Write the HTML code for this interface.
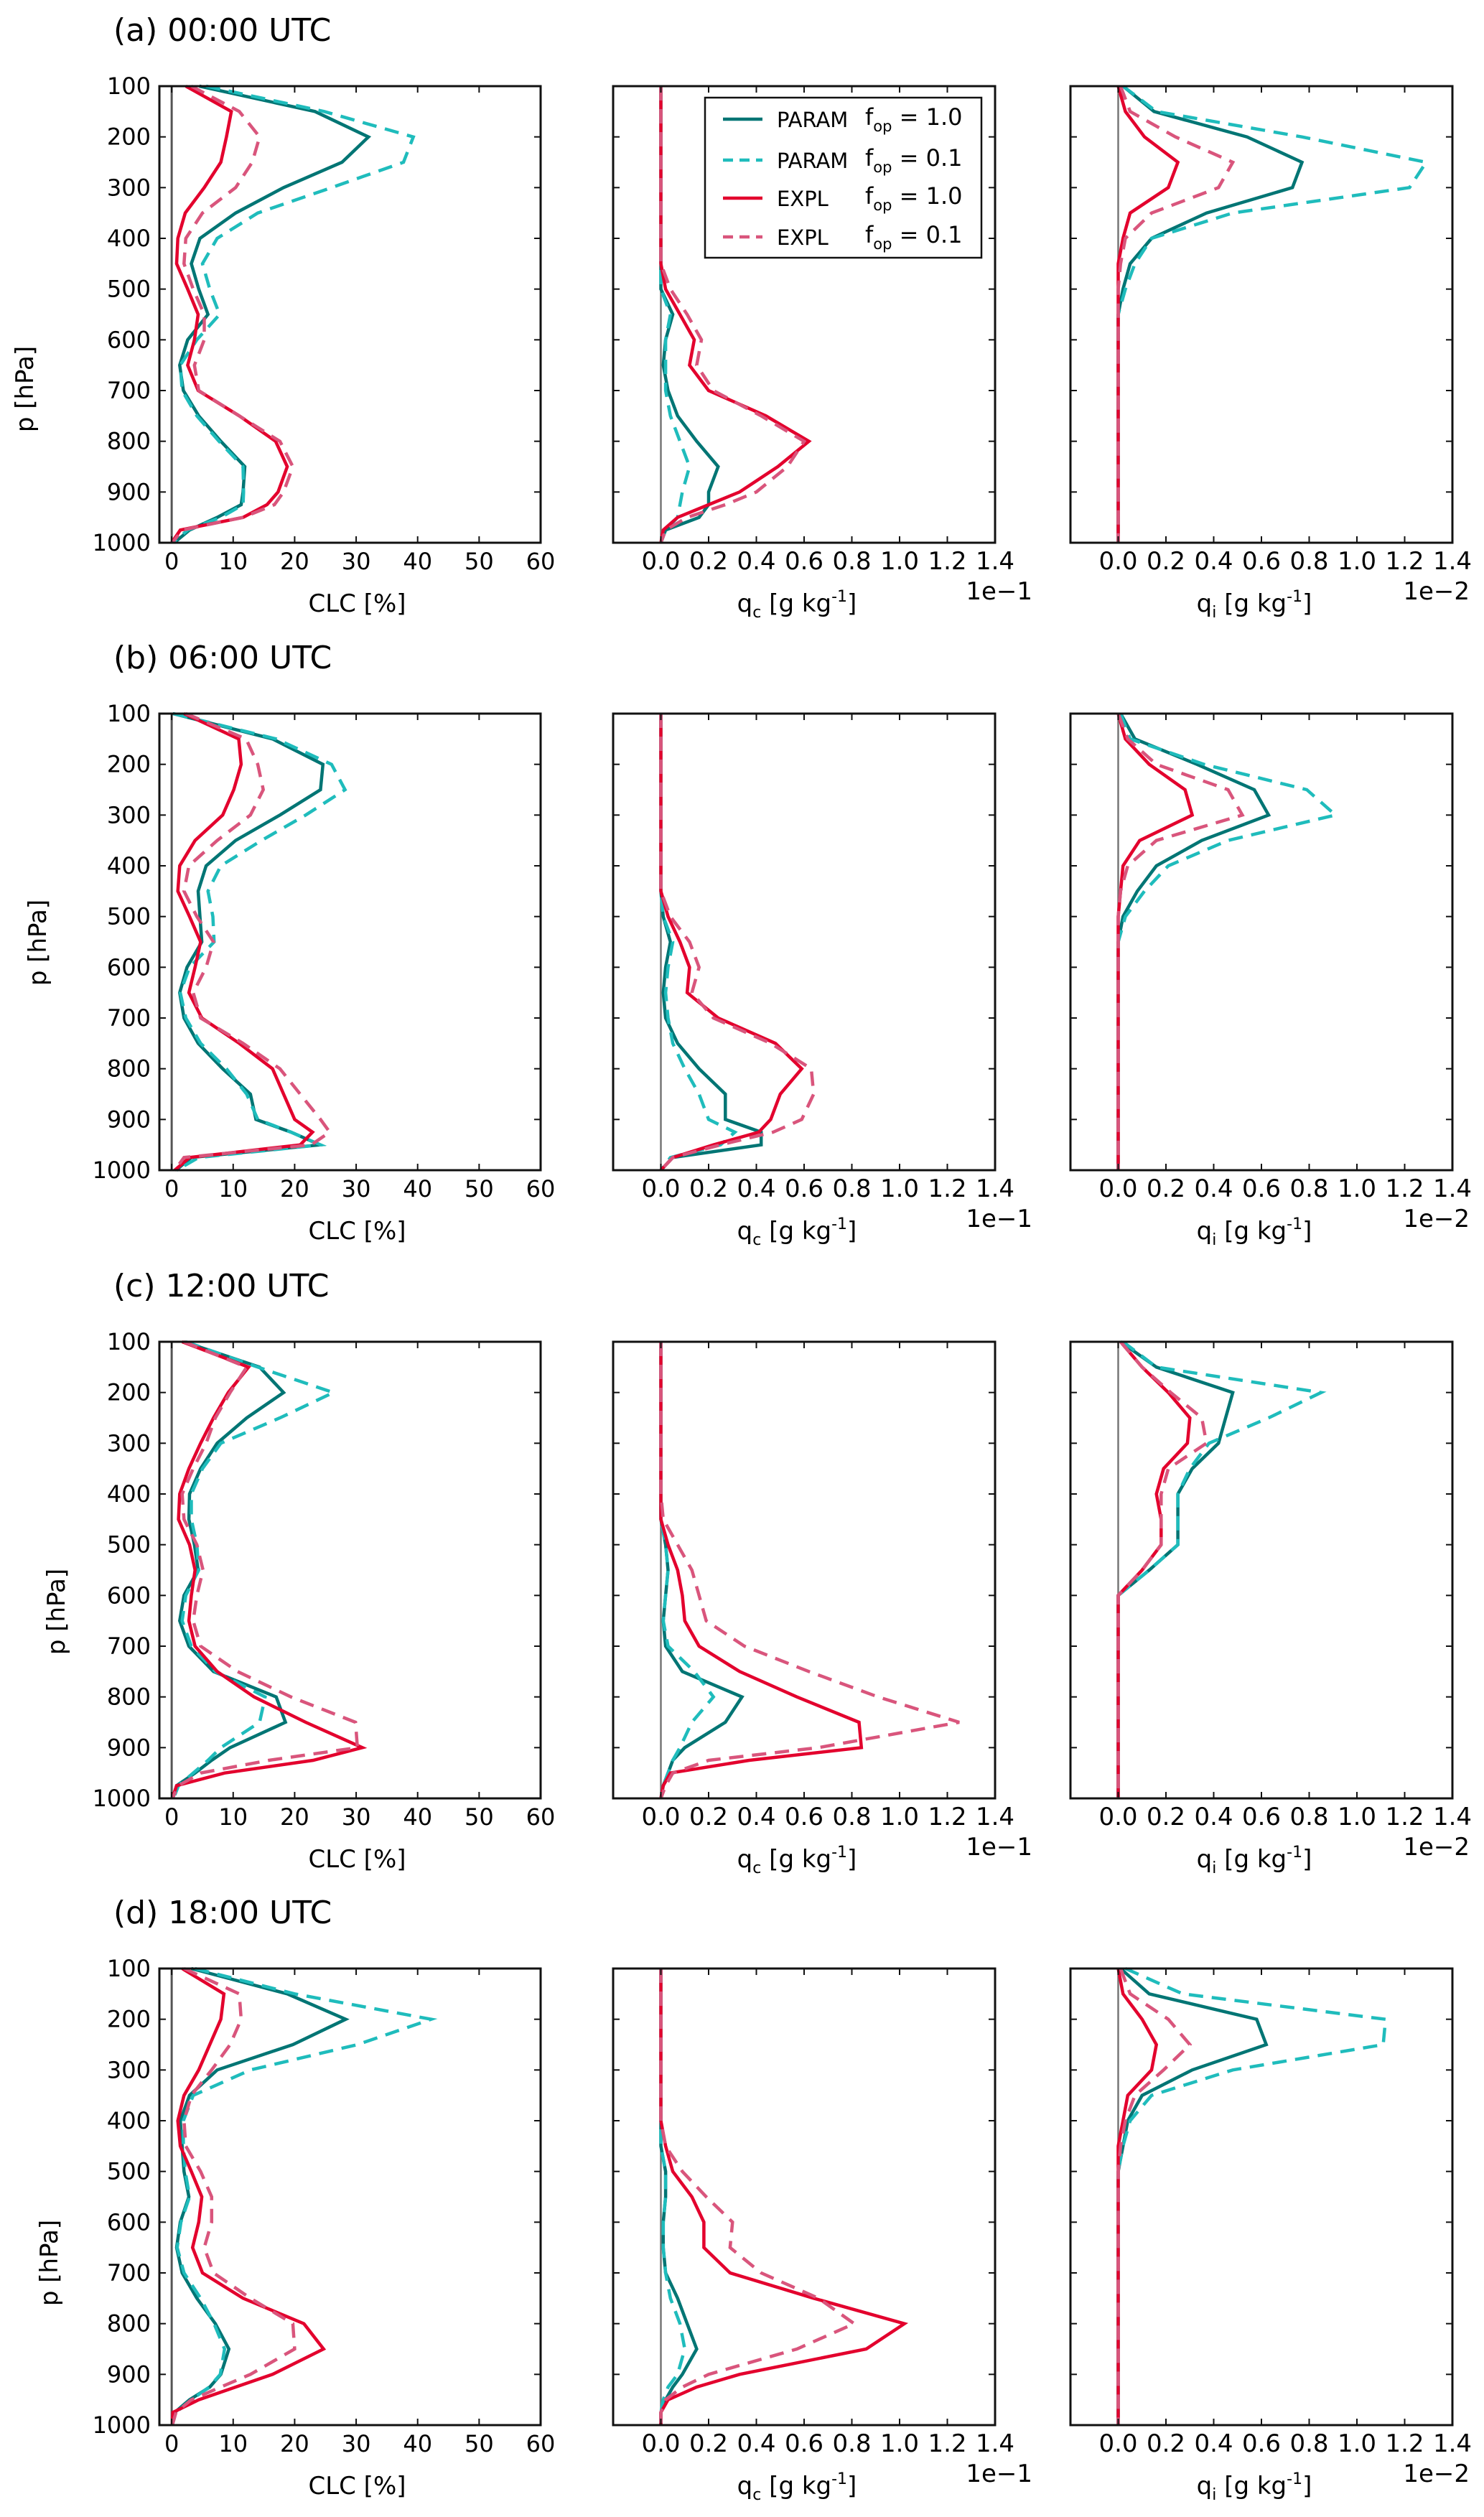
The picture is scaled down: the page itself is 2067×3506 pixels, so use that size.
<!DOCTYPE html>
<html><head><meta charset="utf-8"><style>
html,body{margin:0;padding:0;background:#fff;}
svg{display:block;}
</style></head><body>
<svg id="fig" xmlns="http://www.w3.org/2000/svg" width="2067" height="3506" viewBox="0 0 2067 3506"></svg>
<script>
const levels=[100,150,200,250,300,350,400,450,500,550,600,650,700,750,800,850,900,925,950,975,1000];
const clcTicks=[0,10,20,30,40,50,60];
const qTicks=[0,0.2,0.4,0.6,0.8,1.0,1.2,1.4];
const pTicks=[100,200,300,400,500,600,700,800,900,1000];
const rowTitles=["(a) 00:00 UTC","(b) 06:00 UTC","(c) 12:00 UTC","(d) 18:00 UTC"];
const seriesNames=["PARAM f_op=1.0","PARAM f_op=0.1","EXPL f_op=1.0","EXPL f_op=0.1"];

// ---- (a) 00 UTC
const A_CLC_P1=[4.5,23.3,32,27.7,18.2,10.4,4.6,3.2,4.4,5.9,2.6,1.3,1.9,4.4,8,11.9,11.6,11.3,7.4,2.9,0.4];
const A_CLC_P01=[5.6,24.8,39.3,37.7,26,14,7.4,5,6.2,7.8,4.1,1.4,1.7,4.1,7.7,11.6,11.7,11.6,8,2.6,0.2];
const A_CLC_E1=[2.3,9.7,8.9,8,5.3,2.2,1,0.8,2.6,4.3,3.7,2.6,4.3,11,16.9,18.8,17.3,15.5,11.6,1.4,0];
const A_CLC_E01=[3.2,11,14.3,13.1,10.4,5,2.3,2,3.5,5.3,5.3,3.7,4.4,11,17.6,19.7,18.2,16.7,11.6,1.7,0.1];
const A_QC_P1=[0,0,0,0,0,0,0,0,0,0.05,0.02,0.01,0.03,0.07,0.15,0.24,0.2,0.2,0.16,0.02,0];
const A_QC_P01=[0,0,0,0,0,0,0,0,0,0.04,0.02,0.02,0.02,0.04,0.08,0.12,0.09,0.08,0.07,0.02,0];
const A_QC_E1=[0,0,0,0,0,0,0,0,0.02,0.08,0.14,0.12,0.2,0.44,0.62,0.49,0.33,0.2,0.07,0.01,0];
const A_QC_E01=[0,0,0,0,0,0,0,0,0.04,0.11,0.17,0.15,0.22,0.42,0.6,0.53,0.4,0.27,0.11,0.02,0];
const A_QI_P1=[0.02,0.15,0.54,0.77,0.73,0.37,0.14,0.05,0.02,0,0,0,0,0,0,0,0,0,0,0,0];
const A_QI_P01=[0.02,0.16,0.77,1.29,1.22,0.48,0.14,0.07,0.03,0,0,0,0,0,0,0,0,0,0,0,0];
const A_QI_E1=[0,0.03,0.11,0.25,0.21,0.05,0.02,0,0,0,0,0,0,0,0,0,0,0,0,0,0];
const A_QI_E01=[0.01,0.05,0.24,0.48,0.42,0.14,0.03,0.01,0,0,0,0,0,0,0,0,0,0,0,0,0];
// ---- (b) 06 UTC
const B_CLC_P1=[0.2,16.4,24.6,24.2,17.6,10.4,5.6,4.3,4.6,4.9,2.5,1.3,2,4.3,8.3,12.8,13.7,19.4,24.1,3.2,0.7];
const B_CLC_P01=[0.3,17,26,28.2,21.8,14.6,8,5.9,6.7,6.9,2.9,1.4,2.3,4.7,8.9,12.2,14,19.4,24.2,4.4,0.8];
const B_CLC_E1=[2,10.9,11.3,10.1,8.3,3.8,1.3,1,2.9,4.7,3.8,2.8,4.9,11,16.4,18.2,20,22.9,20.9,2.9,0.5];
const B_CLC_E01=[2.3,12.1,14,14.9,12.8,7.4,2.8,2,4.1,6.8,5.6,3.5,4.7,11.6,17.6,20.9,24.2,25.7,22.7,2,0.5];
const B_QC_P1=[0,0,0,0,0,0,0,0,0.01,0.04,0.02,0.01,0.02,0.07,0.16,0.27,0.27,0.42,0.42,0.05,0];
const B_QC_P01=[0,0,0,0,0,0,0,0,0.01,0.05,0.03,0.02,0.03,0.05,0.1,0.16,0.2,0.31,0.25,0.04,0];
const B_QC_E1=[0,0,0,0,0,0,0,0,0.03,0.08,0.12,0.11,0.24,0.48,0.59,0.5,0.46,0.41,0.22,0.05,0];
const B_QC_E01=[0,0,0,0,0,0,0,0,0.04,0.12,0.16,0.13,0.22,0.46,0.63,0.64,0.59,0.47,0.25,0.05,0];
const B_QI_P1=[0.01,0.07,0.33,0.57,0.63,0.35,0.16,0.08,0.02,0,0,0,0,0,0,0,0,0,0,0,0];
const B_QI_P01=[0.01,0.05,0.36,0.79,0.91,0.46,0.21,0.11,0.03,0,0,0,0,0,0,0,0,0,0,0,0];
const B_QI_E1=[0,0.03,0.13,0.28,0.31,0.09,0.02,0.01,0,0,0,0,0,0,0,0,0,0,0,0,0];
const B_QI_E01=[0,0.04,0.16,0.46,0.52,0.16,0.04,0.01,0,0,0,0,0,0,0,0,0,0,0,0,0];
// ---- (c) 12 UTC
const C_CLC_P1=[2,14.3,18.2,12.2,7.4,4.7,2.9,2.8,3.7,4.3,2,1.3,2.8,6.8,17,18.5,9.5,6.5,3.8,0.8,0.2];
const C_CLC_P01=[2.3,14,26.3,17.6,8,5,3.2,3.2,4.1,4.4,2.3,1.7,3.2,7.1,15.2,14.3,8,5.9,3.5,1.1,0.3];
const C_CLC_E1=[1.7,12.5,9.2,6.8,4.7,2.8,1.3,1.1,2.9,3.8,3.2,2.8,3.8,7.4,13.4,21.8,31,23,8.6,0.8,0.1];
const C_CLC_E01=[2,12.2,9.5,7.1,5.6,3.5,1.7,2,4.1,5.1,4.1,3.5,4.7,10.7,19.4,29.9,30.2,15.8,4.7,1.1,0.1];
const C_QC_P1=[0,0,0,0,0,0,0,0,0.02,0.03,0.02,0.01,0.02,0.09,0.34,0.27,0.1,0.05,0.03,0.01,0];
const C_QC_P01=[0,0,0,0,0,0,0,0,0.02,0.03,0.02,0.01,0.03,0.14,0.22,0.13,0.08,0.05,0.03,0.01,0];
const C_QC_E1=[0,0,0,0,0,0,0,0,0.03,0.07,0.09,0.1,0.16,0.33,0.57,0.83,0.84,0.37,0.04,0.01,0];
const C_QC_E01=[0,0,0,0,0,0,0,0.01,0.07,0.13,0.16,0.19,0.35,0.62,0.91,1.25,0.66,0.2,0.05,0.02,0];
const C_QI_P1=[0.01,0.16,0.48,0.45,0.42,0.31,0.25,0.25,0.25,0.13,0,0,0,0,0,0,0,0,0,0,0];
const C_QI_P01=[0.02,0.16,0.85,0.63,0.38,0.3,0.25,0.25,0.25,0.13,0,0,0,0,0,0,0,0,0,0,0];
const C_QI_E1=[0.01,0.1,0.21,0.3,0.29,0.19,0.16,0.18,0.18,0.1,0,0,0,0,0,0,0,0,0,0,0];
const C_QI_E01=[0.01,0.1,0.22,0.35,0.37,0.21,0.18,0.18,0.18,0.1,0,0,0,0,0,0,0,0,0,0,0];
// ---- (d) 18 UTC
const D_CLC_P1=[3.2,18.8,28.3,19.7,7.4,2.9,1.4,1.7,2,2.8,1.4,0.8,1.7,4.1,7.1,9.3,8,6.2,2.9,0.5,0.1];
const D_CLC_P01=[3.8,20,42.2,30.2,12.8,3.5,1.9,1.9,2.2,2.9,1.5,0.9,2,4.7,6.9,8.6,7.9,6.1,3.2,0.7,0.1];
const D_CLC_E1=[1.7,8.5,8,6.2,4.4,2,1,1.4,3.2,4.9,4.4,3.4,5,11.6,21.5,24.7,16.4,10.4,4.4,0.2,0.1];
const D_CLC_E01=[2,11,11.3,9.5,6.5,3.2,2,2.3,4.7,6.5,6.5,5.3,6.8,12.8,19.7,20,12.8,8,3.2,0.7,0.1];
const D_QC_P1=[0,0,0,0,0,0,0,0,0.02,0.02,0.01,0.01,0.02,0.07,0.11,0.15,0.09,0.05,0.02,0,0];
const D_QC_P01=[0,0,0,0,0,0,0,0,0.02,0.02,0.01,0.01,0.02,0.04,0.08,0.1,0.07,0.03,0.01,0,0];
const D_QC_E1=[0,0,0,0,0,0,0,0.02,0.05,0.13,0.18,0.18,0.29,0.64,1.02,0.86,0.33,0.15,0.03,0,0];
const D_QC_E01=[0,0,0,0,0,0,0,0.02,0.09,0.19,0.3,0.29,0.42,0.66,0.81,0.57,0.2,0.09,0.02,0,0];
const D_QI_P1=[0.01,0.13,0.58,0.62,0.31,0.1,0.04,0.02,0,0,0,0,0,0,0,0,0,0,0,0,0];
const D_QI_P01=[0.03,0.27,1.12,1.11,0.48,0.14,0.05,0.02,0,0,0,0,0,0,0,0,0,0,0,0,0];
const D_QI_E1=[0,0.02,0.1,0.16,0.14,0.04,0.02,0,0,0,0,0,0,0,0,0,0,0,0,0,0];
const D_QI_E01=[0.01,0.05,0.21,0.3,0.19,0.07,0.03,0.01,0,0,0,0,0,0,0,0,0,0,0,0,0];

const NS="http://www.w3.org/2000/svg";
const svg=document.getElementById('fig');
const FONT='"DejaVu Sans","Liberation Sans",sans-serif';
const STY=[{c:'#007574',d:null},{c:'#1fbcbc',d:'20,12'},{c:'#e3002d',d:null},{c:'#d9557c',d:'20,12'}];
const rowTops=[120,994,1869,2742];
const PH=636;
const cols=[{l:222,r:753,min:-2,max:60},{l:854,r:1386,min:-0.2,max:1.4},{l:1491,r:2023,min:-0.2,max:1.4}];
const pLabelPos=[[46,530],[64,1301],[90,2233],[80,3140]];
const DATA=[
 [[A_CLC_P1,A_CLC_P01,A_CLC_E1,A_CLC_E01],[A_QC_P1,A_QC_P01,A_QC_E1,A_QC_E01],[A_QI_P1,A_QI_P01,A_QI_E1,A_QI_E01]],
 [[B_CLC_P1,B_CLC_P01,B_CLC_E1,B_CLC_E01],[B_QC_P1,B_QC_P01,B_QC_E1,B_QC_E01],[B_QI_P1,B_QI_P01,B_QI_E1,B_QI_E01]],
 [[C_CLC_P1,C_CLC_P01,C_CLC_E1,C_CLC_E01],[C_QC_P1,C_QC_P01,C_QC_E1,C_QC_E01],[C_QI_P1,C_QI_P01,C_QI_E1,C_QI_E01]],
 [[D_CLC_P1,D_CLC_P01,D_CLC_E1,D_CLC_E01],[D_QC_P1,D_QC_P01,D_QC_E1,D_QC_E01],[D_QI_P1,D_QI_P01,D_QI_E1,D_QI_E01]]
];

function mk(tag,attrs,parent){const e=document.createElementNS(NS,tag);for(const k in attrs)e.setAttribute(k,attrs[k]);(parent||svg).appendChild(e);return e;}
function txt(s,x,y,size,anchor,parent){const t=mk('text',{x:x,y:y,'font-size':size,'font-family':FONT,'text-anchor':anchor||'start',fill:'#000'},parent);t.textContent=s;return t;}

for(let r=0;r<4;r++){
  const top=rowTops[r],bot=top+PH;
  const yS=p=>top+(p-100)/900*PH;
  const title=txt(rowTitles[r],158,top-63,44,'start');
  
  
  const pl=txt('p [hPa]',0,0,34,'middle');
  pl.setAttribute('transform','translate('+pLabelPos[r][0]+','+(pLabelPos[r][1]+12)+') rotate(-90)');
  
  
  for(let c=0;c<3;c++){
    const C=cols[c];
    const xS=v=>C.l+(v-C.min)/(C.max-C.min)*(C.r-C.l);
    const g=mk('g',{});
    
    
    mk('line',{x1:xS(0),x2:xS(0),y1:top,y2:bot,stroke:c==0?'#555':'#777','stroke-width':c==0?3:2.5},g);
    const sets=DATA[r][c];
    for(let s=0;s<4;s++){
      const pts=levels.map((p,i)=>xS(sets[s][i]).toFixed(1)+','+yS(p).toFixed(1)).join(' ');
      const pl2=mk('polyline',{points:pts,fill:'none',stroke:STY[s].c,'stroke-width':4.5,'stroke-linejoin':'miter'},g);
      if(STY[s].d)pl2.setAttribute('stroke-dasharray',STY[s].d);
      
      
    }
    mk('rect',{x:C.l,y:top,width:C.r-C.l,height:PH,fill:'none',stroke:'#111','stroke-width':3},g);
    const xt=c==0?clcTicks:qTicks;
    xt.forEach(v=>{
      const x=xS(v);
      mk('line',{x1:x,x2:x,y1:bot,y2:bot-9,stroke:'#111','stroke-width':2},g);
      mk('line',{x1:x,x2:x,y1:top,y2:top+9,stroke:'#111','stroke-width':2},g);
      const lab=c==0?String(v):v.toFixed(1);
      txt(lab,x,bot+37,c==0?32:34,'middle',g);
    });
    pTicks.forEach(p=>{
      const y=yS(p);
      mk('line',{x1:C.l,x2:C.l+9,y1:y,y2:y,stroke:'#111','stroke-width':2},g);
      mk('line',{x1:C.r,x2:C.r-9,y1:y,y2:y,stroke:'#111','stroke-width':2},g);
      if(c==0)txt(String(p),210,y+11,32,'end',g);
    });
    if(c==0){
      txt('CLC [%]',(C.l+C.r)/2+10,bot+96,34,'middle',g);
    } else {
      const t=mk('text',{x:(C.l+C.r)/2-10,y:bot+96,'font-size':34,'font-family':FONT,'text-anchor':'middle'},g);
      const a=mk('tspan',{},t);a.textContent='q';
      const b=mk('tspan',{'font-size':22,dy:8},t);b.textContent=c==1?'c':'i';
      const d=mk('tspan',{dy:-8},t);d.textContent=' [g kg';
      const e=mk('tspan',{'font-size':22,dy:-14},t);e.textContent='-1';
      const f=mk('tspan',{dy:14},t);f.textContent=']';
      txt(c==1?'1e\u22121':'1e\u22122',C.r+(c==1?52:24),bot+79,34,'end',g);
    }
  }
}
const lg=mk('g',{});


mk('rect',{x:982,y:136,width:385,height:223,fill:'#fff',stroke:'#111','stroke-width':2.5},lg);
const legY=[166,223,276,330];
const legA=['PARAM','PARAM','EXPL','EXPL'];
const legB=['1.0','0.1','1.0','0.1'];
for(let i=0;i<4;i++){
  const y=legY[i];
  const ln=mk('line',{x1:1007,x2:1062,y1:y,y2:y,stroke:STY[i].c,'stroke-width':4.5},lg);
  if(STY[i].d)ln.setAttribute('stroke-dasharray','14,9');
  
  
  const t1=txt(legA[i],1082,y+11,29,'start',lg);
  
  
  const t=mk('text',{x:1205,y:y+8,'font-size':32,'font-family':FONT},lg);
  const a=mk('tspan',{},t);a.textContent='f';
  const b=mk('tspan',{'font-size':21,dy:9},t);b.textContent='op';
  const c=mk('tspan',{dy:-9},t);c.textContent=' = '+legB[i];
}
</script>
</body></html>
